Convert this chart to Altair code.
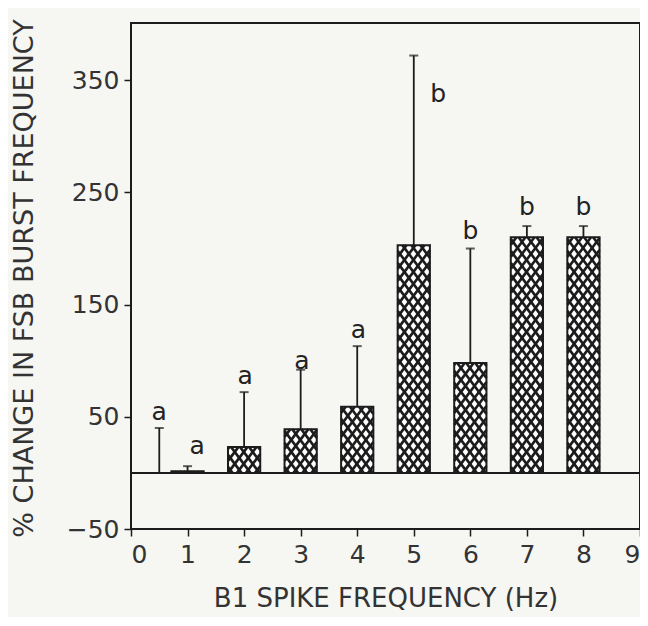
import altair as alt
import pandas as pd
import numpy as np

# ---- data ----
bar_x = [1, 2, 3, 4, 5, 6, 7, 8]
bar_mean = [1.5, 23, 39, 59, 203, 98, 210, 210]
bar_err = [6, 72, 92, 113, 372, 200, 220, 220]

# lone error bar at 0.5 Hz (no visible bar)
pt_x = [0.5]
pt_mean = [0]
pt_err = [40]

lab_text = ["a", "a", "a", "a", "a", "b", "b", "b", "b"]
lab_x = [0.5, 1.17, 2.02, 3.02, 4.02, 5.43, 6.0, 7.0, 8.0]
lab_y = [54, 24, 86, 100, 127, 338, 216, 237, 237]

y_ticks = [-50, 50, 150, 250, 350]
x_ticks = list(range(0, 10))

# ---- style constants ----
W_PX, H_PX = 509, 506
X_DOM = [0, 9]
Y_DOM = [-50, 401]
BAR_W = 0.57          # bar width in x units
INK = "#1c1c1c"
BG = "#f6f6f3"
FONT = "DejaVu Sans"

bars = pd.DataFrame({"x": bar_x, "mean": bar_mean, "err": bar_err})
bars["xl"] = bars["x"] - BAR_W / 2
bars["xr"] = bars["x"] + BAR_W / 2
bars["zero"] = 0

errs = pd.DataFrame({"x": bar_x + pt_x, "mean": bar_mean + pt_mean, "err": bar_err + pt_err})
labs = pd.DataFrame({"t": lab_text, "x": lab_x, "y": lab_y})

# crosshatch: diagonal segments clipped to each bar (computed from bar values)
px_x = W_PX / (X_DOM[1] - X_DOM[0])
px_y = H_PX / (Y_DOM[1] - Y_DOM[0])
cw = 9 / px_x      # cell width in x units
ch = 12 / px_y     # cell height in y units
S = ch / cw
segs = []
for _, r in bars.iterrows():
    xl, xr, v = r["xl"], r["xr"], r["mean"]
    if v <= 0.5:
        continue
    for sgn in (1, -1):
        n0 = int(np.floor(-(v / S) / cw)) - 2
        n1 = int(np.ceil((xr - xl + v / S) / cw)) + 2
        for n in range(n0, n1 + 1):
            a = xl + n * cw + (cw / 2 if sgn < 0 else 0)
            if sgn > 0:
                lo, hi = a, a + v / S
            else:
                lo, hi = a - v / S, a
            x1, x2 = max(lo, xl), min(hi, xr)
            if x2 - x1 <= 1e-6:
                continue
            y1 = sgn * S * (x1 - a)
            y2 = sgn * S * (x2 - a)
            segs.append({"x": x1, "x2": x2, "y": y1, "y2": y2})
hatch = pd.DataFrame(segs)

xs = alt.Scale(domain=X_DOM, nice=False, zero=False)
ys = alt.Scale(domain=Y_DOM, nice=False, zero=False)

x_axis = alt.Axis(values=x_ticks, format="d", title="B1 SPIKE FREQUENCY (Hz)", grid=False,
                  labelFontSize=25, labelFont=FONT, labelColor="#333", labelPadding=6,
                  tickSize=7, tickWidth=1.5, tickColor=INK, domain=False,
                  titleFontSize=26, titleFont=FONT, titleFontWeight="normal", titleColor="#333",
                  titleY=69, titleBaseline="middle")
y_axis = alt.Axis(values=y_ticks, format="d", title="% CHANGE IN FSB BURST FREQUENCY", grid=False,
                  labelFontSize=25, labelFont=FONT, labelColor="#333", labelPadding=5,
                  tickSize=7, tickWidth=1.5, tickColor=INK, domain=False,
                  titleFontSize=27, titleFont=FONT, titleFontWeight="normal", titleColor="#333",
                  titleX=-107, titleY=H_PX / 2 + 2, titleAngle=270, titleAlign="center",
                  titleBaseline="middle")

base_axes = alt.Chart(bars).mark_point(opacity=0).encode(
    x=alt.X("x:Q", scale=xs, axis=x_axis),
    y=alt.Y("mean:Q", scale=ys, axis=y_axis),
)

bar_fill = alt.Chart(bars).mark_rect(fill="white", stroke=None).encode(
    x=alt.X("xl:Q", scale=xs), x2="xr:Q",
    y=alt.Y("zero:Q", scale=ys), y2="mean:Q",
)

hatch_layer = alt.Chart(hatch).mark_rule(color=INK, strokeWidth=2.6).encode(
    x=alt.X("x:Q", scale=xs), x2="x2:Q",
    y=alt.Y("y:Q", scale=ys), y2="y2:Q",
)

bar_outline = alt.Chart(bars).mark_rect(fillOpacity=0, stroke=INK, strokeWidth=2).encode(
    x=alt.X("xl:Q", scale=xs), x2="xr:Q",
    y=alt.Y("zero:Q", scale=ys), y2="mean:Q",
)

err_line = alt.Chart(errs).mark_rule(color=INK, strokeWidth=1.8).encode(
    x=alt.X("x:Q", scale=xs),
    y=alt.Y("mean:Q", scale=ys), y2="err:Q",
)
err_cap = alt.Chart(errs).mark_tick(color=INK, thickness=2, size=9, orient="horizontal").encode(
    x=alt.X("x:Q", scale=xs),
    y=alt.Y("err:Q", scale=ys),
)

zero_df = pd.DataFrame({"y": [0]})
zero_line = alt.Chart(zero_df).mark_rule(color=INK, strokeWidth=2).encode(
    y=alt.Y("y:Q", scale=ys),
)

letters = alt.Chart(labs).mark_text(font=FONT, fontSize=25, color="#222",
                                    align="center", baseline="middle").encode(
    x=alt.X("x:Q", scale=xs),
    y=alt.Y("y:Q", scale=ys),
    text="t:N",
)

chart = alt.layer(base_axes, bar_fill, hatch_layer, bar_outline, zero_line,
                  err_line, err_cap, letters).properties(
    width=W_PX, height=H_PX,
    autosize=alt.AutoSizeParams(type="none"),
    padding={"left": 123, "top": 15, "right": 0, "bottom": 88},
    background=BG,
).configure_view(stroke=INK, strokeWidth=2)

chart.save("out.html", embed_options={"renderer": "svg", "actions": False})
